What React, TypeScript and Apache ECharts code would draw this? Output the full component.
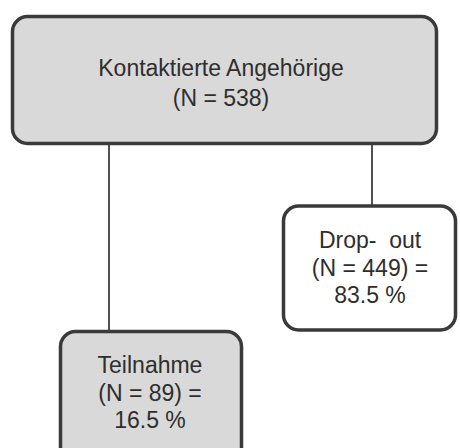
import React, { useEffect, useRef } from "react";
import * as echarts from "echarts";

// Data
const nodeTitles = ["Kontaktierte Angehörige", "Drop-  out", "Teilnahme"];
const nodeCounts = [538, 449, 89];
const nodePercents: (string | null)[] = [null, "83.5", "16.5"];
const nodeFills = ["#d9d9d9", "#ffffff", "#d9d9d9"];

// Layout (positions kept separate from data)
const boxes = [
  { x: 12.5, y: 16.5, w: 424, h: 127, cx: 221, ty: 68, lh: 30 },
  { x: 283.5, y: 206, w: 172, h: 124, cx: 370, ty: 240, lh: 27.5 },
  { x: 60.5, y: 331.5, w: 181, h: 135, cx: 150, ty: 365, lh: 27.5 },
];
const links = [
  { x: 109, y1: 145, y2: 331 },
  { x: 372, y1: 145, y2: 206 },
];

function nodeText(i: number): string[] {
  const lines = [nodeTitles[i]];
  if (nodePercents[i] === null) {
    lines.push(`(N = ${nodeCounts[i]})`);
  } else {
    lines.push(`(N = ${nodeCounts[i]}) =`);
    lines.push(`${nodePercents[i]} %`);
  }
  return lines;
}

export default function App() {
  const ref = useRef<HTMLDivElement>(null);
  useEffect(() => {
    document.body.style.margin = "0";
    if (!ref.current) return;
    const chart = echarts.init(ref.current, null, { renderer: "svg" });
    const elements: any[] = [];
    links.forEach((l) => {
      elements.push({
        type: "line",
        shape: { x1: l.x, y1: l.y1, x2: l.x, y2: l.y2 },
        style: { stroke: "#505050", lineWidth: 2 },
        z: 1,
      });
    });
    boxes.forEach((b, i) => {
      elements.push({
        type: "rect",
        shape: { x: b.x, y: b.y, width: b.w, height: b.h, r: 15 },
        style: { fill: nodeFills[i], stroke: "#3a3a3a", lineWidth: 3.5 },
        z: 2,
      });
      nodeText(i).forEach((t, k) => {
        elements.push({
          type: "text",
          x: b.cx,
          y: b.ty + k * b.lh,
          style: {
            text: t,
            align: "center",
            verticalAlign: "middle",
            font: "23px 'Liberation Sans', Arial, sans-serif",
            fill: "#2e2e2e",
          },
          z: 3,
        });
      });
    });
    chart.setOption({
      animation: false,
      backgroundColor: "#ffffff",
      graphic: { elements },
    });
    return () => chart.dispose();
  }, []);
  return <div ref={ref} style={{ width: 460, height: 448 }} />;
}
